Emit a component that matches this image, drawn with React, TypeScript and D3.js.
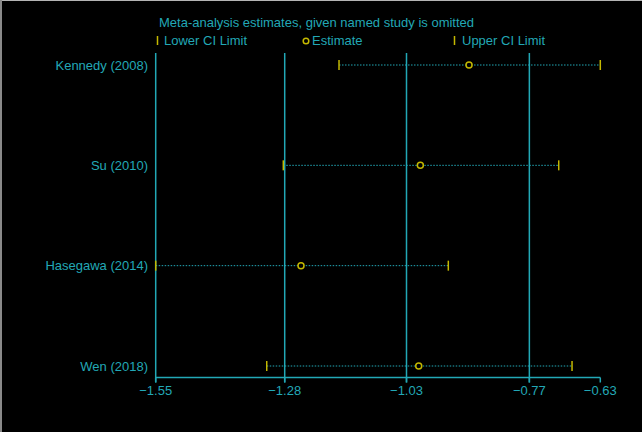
import React from "react";
import * as d3 from "d3";

// Leave-one-out meta-analysis: estimate and CI when each study is omitted
const studies = ["Kennedy (2008)", "Su (2010)", "Hasegawa (2014)", "Wen (2018)"];
const lowerCI = [-1.1706, -1.2865, -1.552, -1.321];
const estimate = [-0.9001, -1.0014, -1.2497, -1.0048];
const upperCI = [-0.627, -0.7135, -0.9432, -0.6858];

// Axis ticks: min lower, overall lower CI, overall estimate, overall upper CI, max upper
const tickValues = [-1.552, -1.2836, -1.0302, -0.7746, -0.627];
const gridValues = [-1.552, -1.2836, -1.0302, -0.7746];

const W = 642;
const H = 432;
const TEAL = "#22a8b6";
const YELLOW = "#c4b800";
const FONT = "'Liberation Sans', Arial, sans-serif";

export default function App() {
  const x = d3.scaleLinear().domain([-1.552, -0.627]).range([155.7, 600.3]);
  const y = d3.scalePoint<string>().domain(studies).range([65, 366]);
  const axisY = 377.5;
  const gridTop = 53;
  const fmt = d3.format(".2f");

  return (
    <>
      <style>{"body{margin:0;background:#fff}"}</style>
      <svg width={W} height={H} style={{ display: "block" }}>
        <rect x={0} y={0} width={W} height={H} fill="#000" />
        <line x1={0} y1={0.5} x2={W} y2={0.5} stroke="#b4b4b4" />
        <line x1={1} y1={0} x2={1} y2={H} stroke="#8a8a8a" strokeWidth={2} />

        {/* title and legend */}
        <text x={159} y={27} fill={TEAL} fontFamily={FONT} fontSize={13}>
          Meta-analysis estimates, given named study is omitted
        </text>
        <line x1={157.5} x2={157.5} y1={36} y2={45} stroke={YELLOW} strokeWidth={1.5} />
        <text x={164} y={45} fill={TEAL} fontFamily={FONT} fontSize={13}>
          Lower CI Limit
        </text>
        <circle cx={306} cy={41} r={2.8} fill="#000" stroke={YELLOW} strokeWidth={1.5} />
        <text x={312} y={45} fill={TEAL} fontFamily={FONT} fontSize={13}>
          Estimate
        </text>
        <line x1={454.5} x2={454.5} y1={36} y2={45} stroke={YELLOW} strokeWidth={1.5} />
        <text x={462} y={45} fill={TEAL} fontFamily={FONT} fontSize={13}>
          Upper CI Limit
        </text>

        {/* vertical reference lines */}
        {gridValues.map((v, i) => (
          <line
            key={"g" + i}
            x1={x(v)}
            x2={x(v)}
            y1={gridTop}
            y2={axisY + 5}
            stroke={TEAL}
            strokeWidth={1.5}
          />
        ))}

        {/* x axis */}
        <line x1={x(-1.552)} x2={x(-0.627)} y1={axisY} y2={axisY} stroke={TEAL} strokeWidth={1.5} />
        {tickValues.map((v, i) => (
          <g key={"t" + i}>
            <line x1={x(v)} x2={x(v)} y1={axisY} y2={axisY + 5} stroke={TEAL} strokeWidth={1.5} />
            <text
              x={x(v)}
              y={395}
              textAnchor="middle"
              fill={TEAL}
              fontFamily={FONT}
              fontSize={13}
            >
              {fmt(v)}
            </text>
          </g>
        ))}

        {/* study rows */}
        {studies.map((s, i) => {
          const cy = y(s) as number;
          return (
            <g key={s}>
              <text
                x={148}
                y={cy + 4.5}
                textAnchor="end"
                fill={TEAL}
                fontFamily={FONT}
                fontSize={13}
              >
                {s}
              </text>
              <line
                x1={x(lowerCI[i])}
                x2={x(upperCI[i])}
                y1={cy}
                y2={cy}
                stroke={TEAL}
                strokeWidth={1}
                strokeDasharray="1.5,1.5"
              />
              <line
                x1={x(lowerCI[i])}
                x2={x(lowerCI[i])}
                y1={cy - 5}
                y2={cy + 5}
                stroke={YELLOW}
                strokeWidth={1.5}
              />
              <line
                x1={x(upperCI[i])}
                x2={x(upperCI[i])}
                y1={cy - 5}
                y2={cy + 5}
                stroke={YELLOW}
                strokeWidth={1.5}
              />
              <circle
                cx={x(estimate[i])}
                cy={cy}
                r={3}
                fill="#000"
                stroke={YELLOW}
                strokeWidth={1.5}
              />
            </g>
          );
        })}
      </svg>
    </>
  );
}
